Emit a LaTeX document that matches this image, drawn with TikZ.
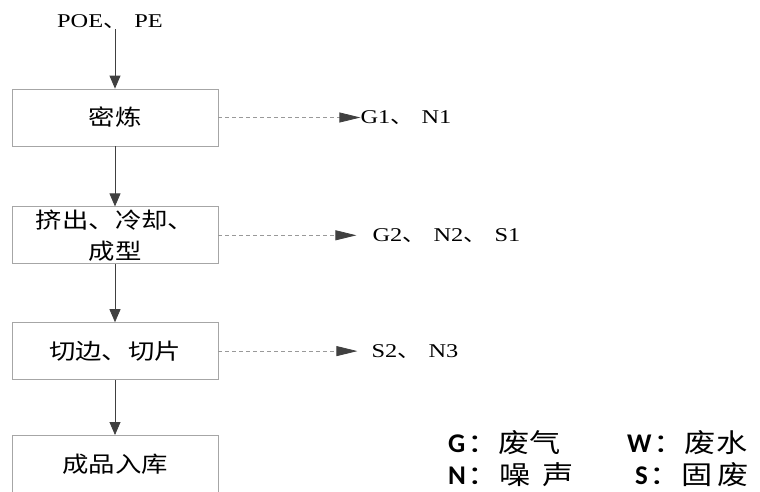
\documentclass[tikz,border=0pt]{standalone}
\usepackage{fontspec}
\setmainfont[FakeStretch=1.25]{Liberation Serif}
\newfontfamily\cjk[FakeStretch=1.2]{Noto Sans CJK SC}
\newfontfamily\legendfont{Carlito}
\usepackage{tikz}
\usetikzlibrary{arrows.meta,positioning}
\definecolor{arrowgray}{HTML}{404040}
\definecolor{boxgray}{HTML}{A6A6A6}
\definecolor{dashgray}{HTML}{999999}
\newcommand{\dun}{{\cjk 、}\hspace{0.4em}}
\tikzset{
    %Define standard arrow tip
    >={Triangle[length=13pt,width=11pt,color=arrowgray]},
    %Define style for boxes
    stage/.style={
           rectangle,
           draw=boxgray, line width=0.8pt,
           minimum width=206pt,
           minimum height=57pt,
           inner sep=0pt,
           font=\fontsize{22}{31}\selectfont\cjk,
           align=center},
    emission/.style={
           inner sep=0pt,
           font=\fontsize{19.5}{22}\selectfont},
    legend/.style={
           anchor=west,
           inner sep=0pt,
           font=\fontsize{26}{30}\selectfont\cjk},
    % Define arrow styles
    flow/.style={
           ->,
           color=arrowgray, line width=0.8pt},
    release/.style={
           -{Triangle[length=21pt,width=10pt,color=arrowgray]},
           color=dashgray, line width=0.8pt,
           dash pattern=on 4pt off 3pt}
}
\newcommand{\tag}[1]{{\fontsize{27}{30}\selectfont\legendfont\bfseries #1}\hspace{2pt}}
\begin{document}
\begin{tikzpicture}[x=1pt,y=-1pt,node distance=60pt]
\useasboundingbox (0,0) rectangle (760,491);
\node[emission](raw) at (110,22){POE\dun PE};
\node[stage](mix) at (115,117.5){密炼};
\node[stage, below=60pt of mix](extrude){挤出、冷却、\\成型};
\node[stage, below=58pt of extrude](cut){切边、切片};
\node[stage, below=55pt of cut](store){成品入库};
\coordinate (in) at (mix.north |- raw.south);
\node[emission, right=142pt of mix](e1){G1\dun N1};
\node[emission, right=154pt of extrude](e2){G2\dun N2\dun S1};
\node[emission, right=153pt of cut](e3){S2\dun N3};
\node[legend] (lg) at (448,443){\tag{G}：废气};
\node[legend] (lw) at (627,443){\tag{W}：废水};
\node[legend] (ln) at (448,475){\tag{N}：噪\hspace{0.45em}声};
\node[legend] (ls) at (635,475){\tag{S}：固\hspace{0.2em}废};
\path[flow]
    (in) edge (mix)
    (mix) edge (extrude)
    (extrude) edge (cut)
    (cut) edge (store);
\path[release]
    (mix) edge (e1)
    (extrude) edge[shorten >=16pt] (e2)
    (cut) edge[shorten >=14pt] (e3);
\end{tikzpicture}
\end{document}
